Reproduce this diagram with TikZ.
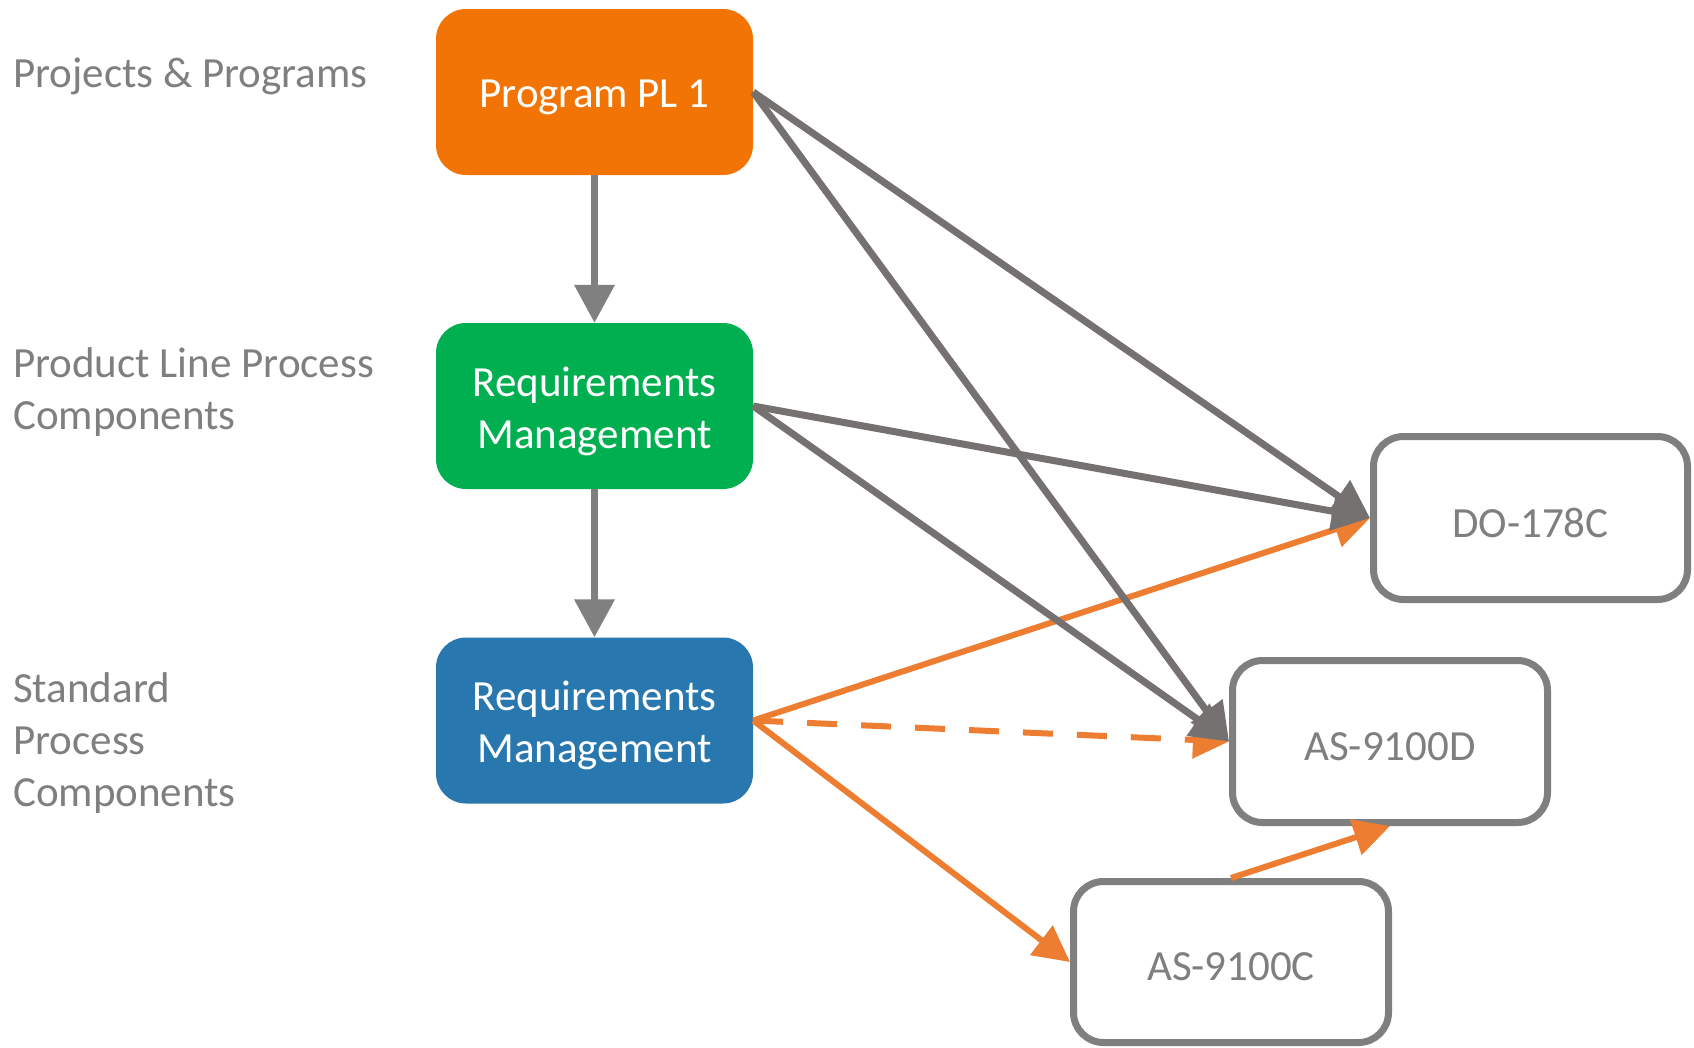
\documentclass[tikz,border=0pt]{standalone}
\usepackage{fontspec}
\setmainfont{Carlito}
\usetikzlibrary{arrows.meta}
\definecolor{boxorange}{HTML}{F27405}
\definecolor{boxgreen}{HTML}{00AF50}
\definecolor{boxblue}{HTML}{2877AE}
\definecolor{linegray}{HTML}{767171}
\definecolor{vgray}{HTML}{808080}
\definecolor{edgegray}{HTML}{7F7F7F}
\definecolor{arrorange}{HTML}{ED7D31}
\tikzset{
  bigfont/.style={font=\fontsize{43}{52}\selectfont},
  boxtext/.style={bigfont, align=center, inner sep=0pt, yshift=-5pt},
  fillbox/.style={rectangle, rounded corners=30pt, minimum width=317pt, minimum height=166pt,
    inner sep=0pt},
  stdbox/.style={rectangle, rounded corners=30pt, draw=edgegray, line width=7pt, fill=white,
    minimum width=315pt, minimum height=163pt, inner sep=0pt},
  sidelabel/.style={anchor=west, align=left, text=edgegray, inner sep=0pt, bigfont},
  vconn/.style={draw=vgray, line width=7pt, -{Triangle[length=38pt,width=39pt]}},
  gconn/.style={draw=linegray, line width=7pt, -{Triangle[length=38pt,width=38pt]}},
  oconn/.style={draw=arrorange, line width=6pt, -{Triangle[length=36pt,width=36pt]}},
  odash/.style={oconn, dash pattern=on 30pt off 24pt},
}
\begin{document}
\begin{tikzpicture}[x=1pt, y=-1pt]
\useasboundingbox (0,0) rectangle (1694,1047);
\fill[white] (0,0) rectangle (1694,1047);

% left labels
\node[sidelabel] (l1) at (13,76) {Projects \& Programs};
\node[sidelabel] (l2) at (13,392.5) {Product Line Process\\Components};
\node[sidelabel] (l3) at (13,743) {Standard\\Process\\Components};

% coloured boxes
\node[fillbox, fill=boxorange, label={[boxtext, text=white]center:Program PL 1}] (pl) at (594.5,92) {};
\node[fillbox, fill=boxgreen, label={[boxtext, text=white]center:{Requirements\\Management}}] (rmg) at (594.5,406) {};
\node[fillbox, fill=boxblue, label={[boxtext, text=white]center:{Requirements\\Management}}] (rmb) at (594.5,720.5) {};

% standard boxes
\node[stdbox, minimum width=314pt, label={[boxtext, text=edgegray]center:DO-178C}] (do) at (1530.5,518) {};
\node[stdbox, minimum height=162pt, label={[boxtext, text=edgegray]center:AS-9100D}] (asd) at (1390,741.5) {};
\node[stdbox, minimum height=161pt, label={[boxtext, text=edgegray]center:AS-9100C}] (asc) at (1231,962) {};

% vertical connectors
\draw[vconn] (pl.south) -- (rmg.north);
\draw[vconn] (rmg.south) -- (rmb.north);

% orange connectors
\draw[oconn] (rmb.east) -- (do.west);
\draw[odash] (rmb.east) -- (asd.west);
\draw[oconn] (rmb.east) -- (asc.west);
\draw[oconn] (asc.north) -- (asd.south);

% gray connectors
\draw[gconn] (pl.east) -- (do.west);
\draw[gconn] (pl.east) -- (asd.west);
\draw[gconn] (rmg.east) -- (do.west);
\draw[gconn] (rmg.east) -- (asd.west);
\end{tikzpicture}
\end{document}
